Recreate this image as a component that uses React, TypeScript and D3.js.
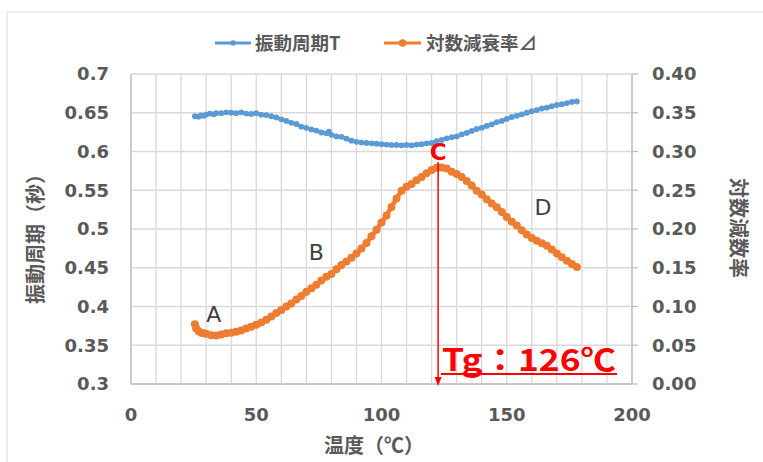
import React from "react";
import * as d3 from "d3";

// Temperature (°C) and oscillation period T (s) — left axis
const periodTemp = [25.5, 27, 28, 29, 30, 31.5, 33, 34, 36, 38, 40, 42, 44, 46, 48, 50, 52, 54, 56, 58, 60, 62, 64, 66, 68, 70, 72, 74, 76, 78, 79, 80, 82, 84, 86, 88, 90, 92, 94, 96, 98, 100, 102, 104, 106, 108, 110, 112, 114, 116, 118, 120, 122, 124, 126, 128, 130, 132, 134, 136, 138, 140, 142, 144, 146, 148, 150, 152, 154, 156, 158, 160, 162, 164, 166, 168, 170, 172, 174, 176, 178];
const periodValues = [0.6455, 0.645, 0.6465, 0.646, 0.6475, 0.649, 0.648, 0.6495, 0.6495, 0.6505, 0.65, 0.6495, 0.6505, 0.649, 0.6485, 0.6495, 0.6475, 0.647, 0.6455, 0.644, 0.6415, 0.6395, 0.637, 0.6355, 0.632, 0.6305, 0.6285, 0.627, 0.6245, 0.6235, 0.6255, 0.6215, 0.6195, 0.619, 0.6165, 0.614, 0.6125, 0.6115, 0.611, 0.6105, 0.61, 0.6095, 0.609, 0.6085, 0.6085, 0.608, 0.6085, 0.608, 0.609, 0.6095, 0.6105, 0.611, 0.6135, 0.615, 0.617, 0.6185, 0.6195, 0.622, 0.624, 0.6265, 0.629, 0.6305, 0.633, 0.635, 0.638, 0.6395, 0.642, 0.6445, 0.646, 0.648, 0.65, 0.652, 0.6535, 0.6555, 0.6565, 0.6585, 0.66, 0.661, 0.6625, 0.664, 0.6645];

// Temperature (°C) and logarithmic decrement — right axis
const decTemp = [25.5, 26, 27, 28, 29, 30, 32, 34, 36, 38, 40, 42, 44, 46, 48, 50, 52, 54, 56, 58, 60, 62, 64, 66, 68, 70, 72, 74, 76, 78, 80, 82, 84, 86, 88, 90, 92, 94, 96, 98, 100, 102, 104, 106, 108, 110, 112, 114, 116, 118, 120, 122, 124, 126, 128, 130, 132, 134, 136, 138, 140, 142, 144, 146, 148, 150, 152, 154, 156, 158, 160, 162, 164, 166, 168, 170, 172, 174, 176, 178];
const decValues = [0.077, 0.072, 0.068, 0.066, 0.0655, 0.065, 0.063, 0.0625, 0.064, 0.0655, 0.066, 0.0675, 0.069, 0.0715, 0.074, 0.0765, 0.0795, 0.083, 0.087, 0.0915, 0.0955, 0.1, 0.104, 0.109, 0.1135, 0.119, 0.1235, 0.128, 0.1335, 0.1385, 0.142, 0.148, 0.1535, 0.158, 0.163, 0.1685, 0.175, 0.182, 0.1905, 0.199, 0.2085, 0.2175, 0.2285, 0.2395, 0.2495, 0.2545, 0.258, 0.263, 0.267, 0.272, 0.276, 0.279, 0.2795, 0.278, 0.274, 0.271, 0.267, 0.262, 0.256, 0.2495, 0.2445, 0.2385, 0.233, 0.228, 0.222, 0.2155, 0.2095, 0.2045, 0.1985, 0.193, 0.1885, 0.185, 0.1815, 0.1785, 0.1735, 0.1685, 0.1635, 0.159, 0.155, 0.151];

const xTicks = [0, 50, 100, 150, 200];
const xMinorTicks = [0, 10, 20, 30, 40, 50, 60, 70, 80, 90, 100, 110, 120, 130, 140, 150, 160, 170, 180, 190, 200];
const leftTicks = [0.3, 0.35, 0.4, 0.45, 0.5, 0.55, 0.6, 0.65, 0.7];
const leftTickLabels = ["0.3", "0.35", "0.4", "0.45", "0.5", "0.55", "0.6", "0.65", "0.7"];
const rightTicks = [0, 0.05, 0.1, 0.15, 0.2, 0.25, 0.3, 0.35, 0.4];
const rightTickLabels = ["0.00", "0.05", "0.10", "0.15", "0.20", "0.25", "0.30", "0.35", "0.40"];

const seriesNames = ["振動周期T", "対数減衰率⊿"];
const xTitle = "温度（℃）";
const leftTitle = "振動周期（秒）";
const rightTitle = "対数減数率";
const annotations = [
  { label: "A", t: 33, v: 0.0795 },
  { label: "B", t: 74, v: 0.1595 },
];
const annotationD = { label: "D", t: 164.5, v: 0.2175 };
const tgTemp = 122.6;
const tgText = "Tg：126℃";

const BLUE = "#5b9bd5";
const ORANGE = "#ed7d31";
const GRID = "#d9d9d9";
const AXIS = "#bfbfbf";
const TEXT = "#595959";
const NUM_FONT = "'DejaVu Sans', Verdana, sans-serif";
const JP_FONT = "'Noto Sans CJK JP', sans-serif";

export default function App() {
  const W = 763, H = 462;
  const L = 131, R = 632, T = 74, B = 384;
  const x = d3.scaleLinear().domain([0, 200]).range([L, R]);
  const yL = d3.scaleLinear().domain([0.3, 0.7]).range([B, T]);
  const yR = d3.scaleLinear().domain([0, 0.4]).range([B, T]);

  const periodPts = periodTemp.map((t, i) => [x(t), yL(periodValues[i])] as [number, number]);
  const decPts = decTemp.map((t, i) => [x(t), yR(decValues[i])] as [number, number]);
  const line = d3.line();

  const tgX = x(tgTemp);

  return (
    <svg width={W} height={H} style={{ position: "absolute", left: 0, top: 0, background: "#fff" }}>
      <rect x={7} y={12} width={W} height={H} fill="#fff" stroke={GRID} strokeWidth={1} />
      {/* grid */}
      {xMinorTicks.map((t) => (
        <line key={"vx" + t} x1={x(t)} x2={x(t)} y1={T} y2={B} stroke={GRID} strokeWidth={1.3} />
      ))}
      {leftTicks.map((v) => (
        <line key={"hy" + v} x1={L} x2={R} y1={yL(v)} y2={yL(v)} stroke={GRID} strokeWidth={1.3} />
      ))}
      {/* axes */}
      <line x1={L} x2={L} y1={T} y2={B} stroke={AXIS} strokeWidth={1.3} />
      <line x1={L} x2={R} y1={B} y2={B} stroke={AXIS} strokeWidth={1.3} />
      <line x1={R} x2={R} y1={T} y2={B} stroke={AXIS} strokeWidth={1.3} />
      {rightTicks.map((v) => (
        <line key={"rt" + v} x1={R} x2={R + 6} y1={yR(v)} y2={yR(v)} stroke={AXIS} strokeWidth={1.3} />
      ))}
      {/* tick labels */}
      {leftTicks.map((v, i) => (
        <text key={"lt" + v} x={109} y={yL(v)} dy="0.36em" textAnchor="end" fontFamily={NUM_FONT} fontWeight="bold" fontSize={18} fill={TEXT}>
          {leftTickLabels[i]}
        </text>
      ))}
      {rightTicks.map((v, i) => (
        <text key={"rtl" + v} x={652} y={yR(v)} dy="0.36em" textAnchor="start" fontFamily={NUM_FONT} fontWeight="bold" fontSize={18} fill={TEXT}>
          {rightTickLabels[i]}
        </text>
      ))}
      {xTicks.map((t) => (
        <text key={"xt" + t} x={x(t)} y={421} textAnchor="middle" fontFamily={NUM_FONT} fontWeight="bold" fontSize={18} fill={TEXT}>
          {t}
        </text>
      ))}
      {/* titles */}
      <text x={374} y={453} textAnchor="middle" fontFamily={JP_FONT} fontWeight="bold" fontSize={20} fill={TEXT}>
        {xTitle}
      </text>
      <text transform={`translate(43,234) rotate(-90)`} textAnchor="middle" fontFamily={JP_FONT} fontWeight="bold" fontSize={20} fill={TEXT}>
        {leftTitle}
      </text>
      <text transform={`translate(731,228) rotate(90)`} textAnchor="middle" fontFamily={JP_FONT} fontWeight="bold" fontSize={20} fill={TEXT}>
        {rightTitle}
      </text>
      {/* legend */}
      <g>
        <line x1={215} x2={251} y1={43} y2={43} stroke={BLUE} strokeWidth={3} />
        <circle cx={233} cy={43} r={2.8} fill={BLUE} />
        <text x={255} y={43} dy="0.36em" fontFamily={JP_FONT} fontWeight="bold" fontSize={18.5} fill={TEXT}>
          {seriesNames[0]}
        </text>
        <line x1={384} x2={421} y1={43} y2={43} stroke={ORANGE} strokeWidth={3} />
        <circle cx={402.5} cy={43} r={3.8} fill={ORANGE} />
        <text x={426} y={43} dy="0.36em" fontFamily={JP_FONT} fontWeight="bold" fontSize={18.5} fill={TEXT}>
          {seriesNames[1]}
        </text>
      </g>
      {/* series */}
      <path d={line(periodPts) ?? ""} fill="none" stroke={BLUE} strokeWidth={3.5} strokeLinejoin="round" />
      {periodPts.map((p, i) => (
        <circle key={"bp" + i} cx={p[0]} cy={p[1]} r={2.9} fill={BLUE} />
      ))}
      <path d={line(decPts) ?? ""} fill="none" stroke={ORANGE} strokeWidth={4.5} strokeLinejoin="round" />
      {decPts.map((p, i) => (
        <circle key={"op" + i} cx={p[0]} cy={p[1]} r={4} fill={ORANGE} />
      ))}
      {/* annotations */}
      {annotations.map((a) => (
        <text key={a.label} x={x(a.t)} y={yR(a.v)} textAnchor="middle" fontFamily={NUM_FONT} fontSize={22} fill="#404040">
          {a.label}
        </text>
      ))}
      <text x={x(annotationD.t)} y={yR(annotationD.v)} textAnchor="middle" fontFamily={NUM_FONT} fontSize={22} fill="#404040">
        {annotationD.label}
      </text>
      <text x={tgX} y={160} textAnchor="middle" fontFamily={NUM_FONT} fontWeight="bold" fontSize={23} fill="#ff0000">
        C
      </text>
      <line x1={tgX} x2={tgX} y1={162} y2={378} stroke="#ff0000" strokeWidth={1.5} />
      <path d={`M${tgX - 3.5},${377} L${tgX + 3.5},${377} L${tgX},${386} Z`} fill="#ff0000" />
      <text x={442} y={371} fontFamily={JP_FONT} fontWeight="bold" fontSize={31} fill="#ff0000" textLength={174} lengthAdjust="spacingAndGlyphs">
        {tgText}
      </text>
      <line x1={441} x2={617} y1={374} y2={374} stroke="#ff0000" strokeWidth={2} />
    </svg>
  );
}
